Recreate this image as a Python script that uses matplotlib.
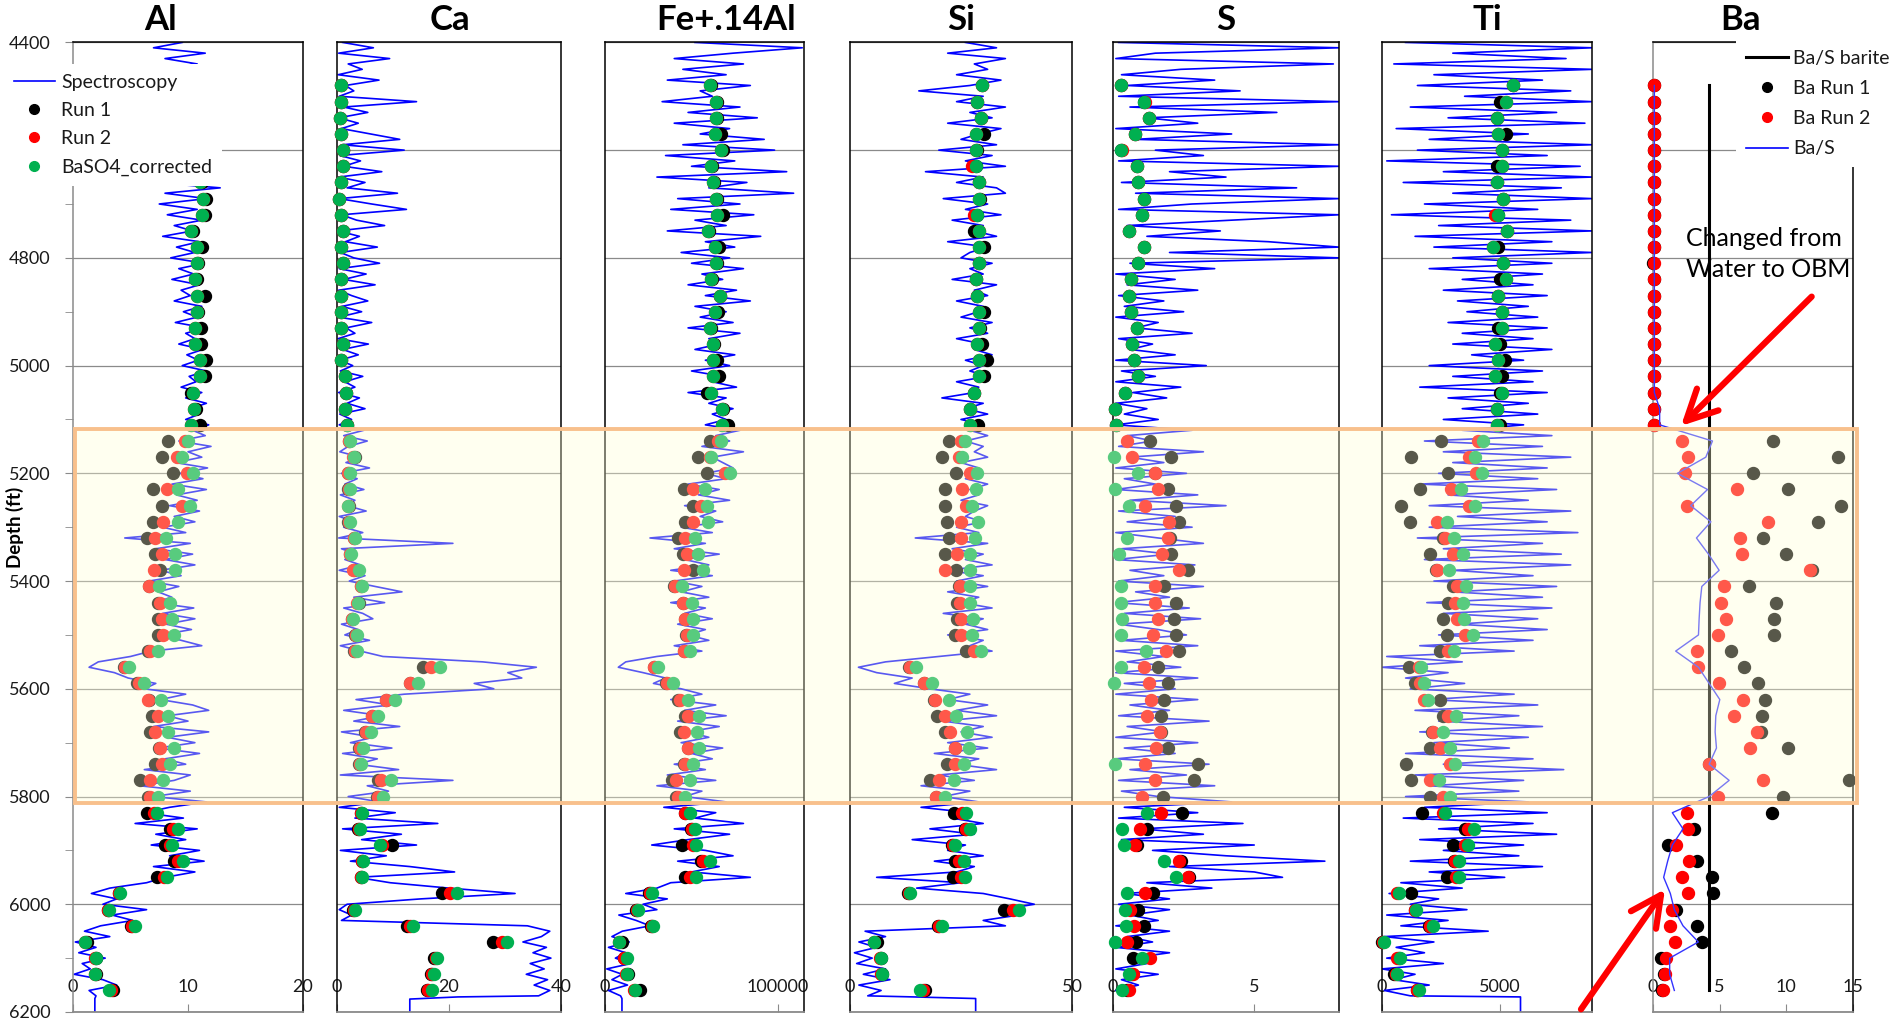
import numpy as np
import matplotlib
matplotlib.use('Agg')
import matplotlib.pyplot as plt
import matplotlib.transforms as mtransforms
from matplotlib.patches import Rectangle
from matplotlib.lines import Line2D

plt.rcParams['font.family'] = ['Lato', 'DejaVu Sans']

# spectroscopy log every 10 ft, lab runs every 30 ft
log_depth = np.arange(4400, 6180, 10)
run_depth = np.arange(4480, 6161, 30)

# ---------------- Al ----------------
al_log = [9.5, 7.0, 11.5, 8.0, 10.8, 6.5, 11.2, 9.0, 10.5, 9.2,
          10.2, 9.0, 11.0, 9.5, 10.8, 9.2, 11.3, 9.8, 10.5, 9.4,
          11.0, 9.0, 10.6, 8.5, 11.5, 10.0, 7.0, 12.8, 8.0, 11.6,
          7.5, 10.8, 8.2, 11.2, 8.8, 10.4, 7.8, 11.0, 9.0, 10.6,
          8.5, 11.4, 9.2, 10.5, 8.6, 11.0, 9.4, 10.2, 8.8, 11.2,
          9.6, 10.8, 8.9, 11.5, 9.8, 10.6, 9.2, 11.3, 9.9, 10.9,
          9.5, 11.6, 10.1, 10.7, 9.4, 11.2, 9.8, 11.6, 10.2, 11.0,
          9.8, 11.8, 10.4, 11.5, 9.2, 12.0, 10.0, 11.2, 8.9, 11.7,
          9.3, 11.3, 8.6, 11.6, 9.0, 10.8, 8.4, 11.0, 8.8, 10.6,
          7.8, 9.8, 4.5, 10.2, 7.2, 10.4, 8.0, 10.6, 7.6, 9.4,
          6.6, 9.2, 7.4, 8.6, 7.0, 10.5, 7.8, 10.6, 8.1, 10.3,
          7.6, 9.4, 11.2, 6.8, 5.0, 2.2, 1.4, 3.6, 4.8, 7.2,
          6.2, 9.8, 7.6, 10.4, 11.8, 8.2, 10.0, 7.0, 11.8, 8.2,
          10.6, 7.4, 11.0, 8.0, 9.8, 6.2, 10.2, 8.8, 5.8, 10.2,
          7.0, 11.6, 8.4, 6.2, 9.6, 5.4, 10.8, 7.2, 9.8, 6.8,
          11.0, 8.4, 11.4, 7.0, 10.6, 8.0, 6.4, 3.2, 1.6, 3.8,
          2.6, 6.4, 3.4, 5.2, 2.4, 1.0, 3.2, 0.2, 2.0, 0.5,
          2.8, 0.8, 1.5, 0.1, 2.6, 3.8, 1.4, 2.0]
al_tail = [1.9, 1.9]
al_tail_depth = [6175, 6260]
al_run1 = [10.8, 11.0, 10.6, 11.2, 10.9, 11.0, 11.2, 11.6, 11.5, 10.4, 11.2,
           10.9, 10.8, 11.5, 10.9, 11.1, 11.1, 11.6, 11.5, 10.3, 10.7, 11.0,
           8.3, 7.7, 8.7, 6.95, 7.7, 6.95, 6.4, 7.15, 7.55, 6.65, 7.4, 7.4,
           7.4, 6.55, 4.4, 5.6, 6.65, 6.85, 6.7, 7.5, 7.15, 5.85, 6.55,
           6.4, 8.4, 8.0, 8.8, 7.3, 4.0, 3.0, 5.0, 1.2, 2.0, 2.0, 3.5]
al_run2 = [10.6, 10.9, 10.5, 11.0, 10.7, 10.8, 11.0, 11.3, 11.2, 10.3, 10.75,
           10.75, 10.6, 10.75, 10.75, 10.6, 10.6, 11.0, 11.0, 10.45, 10.55, 10.3,
           9.75, 9.0, 9.9, 8.15, 9.45, 7.8, 7.15, 7.7, 7.0, 6.65, 7.55, 7.7,
           7.85, 6.7, 4.5, 5.7, 6.55, 7.4, 7.15, 7.55, 7.7, 6.7, 6.7,
           7.0, 8.7, 8.4, 9.1, 7.9, 4.0, 3.0, 5.1, 1.0, 1.9, 1.9, 3.3]
al_corr = [10.6, 10.9, 10.5, 11.0, 10.7, 10.8, 11.0, 11.3, 11.2, 10.3, 10.75,
           10.75, 10.6, 10.75, 10.75, 10.6, 10.6, 11.0, 11.0, 10.45, 10.55, 10.3,
           10.0, 9.45, 10.45, 9.15, 10.2, 9.15, 8.1, 8.85, 8.85, 7.5, 8.4, 8.6,
           8.75, 7.35, 4.85, 6.2, 7.65, 8.3, 8.3, 8.75, 8.45, 7.85, 7.35,
           7.3, 9.1, 8.6, 9.6, 8.2, 4.05, 3.1, 5.4, 1.0, 2.0, 1.95, 3.1]

# ---------------- Ca ----------------
ca_log = [1.0, 6.5, 0.3, 9.4, 2.0, 4.5, 0.2, 7.5, 1.5, 3.0,
          0.4, 14.2, 1.2, 5.5, 0.3, 3.8, 0.8, 6.0, 11.2, 1.0,
          12.0, 0.5, 4.2, 1.2, 8.0, 0.3, 5.0, 1.8, 10.8, 0.4,
          6.2, 12.4, 0.8, 3.5, 8.5, 0.2, 4.0, 1.5, 7.2, 0.6,
          3.0, 7.6, 0.4, 5.2, 1.2, 6.8, 0.3, 2.6, 5.5, 0.9,
          4.4, 0.3, 6.2, 1.6, 3.2, 0.2, 5.6, 1.0, 3.8, 0.5,
          2.8, 0.6, 4.6, 1.4, 3.2, 0.3, 4.0, 1.8, 5.0, 0.5,
          2.6, 0.4, 4.8, 1.2, 5.4, 2.0, 0.5, 4.2, 1.6, 5.8,
          0.8, 3.6, 1.4, 4.8, 0.6, 3.2, 1.8, 5.2, 0.4, 3.0,
          1.2, 4.6, 0.3, 20.7, 0.8, 3.4, 1.4, 4.2, 0.4, 5.0,
          2.2, 6.8, 11.6, 3.0, 8.5, 1.2, 4.6, 6.4, 0.8, 3.8,
          1.4, 5.8, 0.6, 4.2, 8.2, 26.0, 35.6, 30.5, 33.0, 24.5,
          28.0, 12.0, 3.4, 9.5, 1.2, 8.0, 3.0, 11.2, 0.8, 6.5,
          2.4, 9.8, 1.0, 7.2, 3.6, 11.0, 0.6, 20.7, 5.4, 9.2,
          2.0, 7.6, 0.4, 10.4, 3.2, 18.0, 1.0, 11.5, 4.4, 14.2,
          0.6, 8.8, 2.4, 13.0, 21.0, 3.6, 9.5, 20.0, 31.8, 15.0,
          1.8, 0.4, 2.6, 0.8, 34.0, 38.0, 36.5, 33.2, 37.4, 35.0,
          38.2, 34.5, 37.0, 33.8, 37.6, 35.2, 38.0, 36.0]
ca_tail = [21.6, 13.0, 13.0]
ca_tail_depth = [6172, 6176, 6260]
ca_run1 = [0.8, 0.8, 0.6, 0.7, 1.1, 1.0, 0.8, 0.35, 0.7, 1.0, 0.8,
           1.0, 0.8, 0.7, 0.8, 0.7, 1.0, 0.7, 1.4, 1.65, 1.5, 1.8,
           2.1, 3.2, 2.0, 2.0, 2.1, 2.0, 3.0, 2.3, 3.0, 4.2, 4.0, 2.6,
           3.3, 3.1, 15.4, 13.0, 8.7, 6.3, 5.0, 4.0, 4.0, 7.3, 7.2,
           4.2, 3.8, 9.9, 4.4, 4.2, 18.8, 2.9, 12.5, 27.8, 17.4, 16.7, 16.0]
ca_run2 = [0.8, 0.8, 0.6, 0.7, 1.1, 1.0, 0.8, 0.35, 0.7, 1.0, 0.8,
           1.0, 0.8, 0.7, 0.8, 0.7, 1.0, 0.7, 1.4, 1.65, 1.5, 1.8,
           2.2, 2.9, 2.0, 2.1, 1.9, 2.1, 3.1, 2.4, 2.85, 4.3, 3.6, 2.7,
           3.4, 3.2, 16.7, 13.0, 8.8, 6.3, 5.1, 4.05, 4.1, 7.9, 7.35,
           4.3, 3.9, 8.0, 4.4, 4.3, 20.1, 3.0, 13.0, 29.4, 17.6, 16.9, 16.3]
ca_corr = [0.8, 0.8, 0.6, 0.7, 1.1, 1.0, 0.8, 0.35, 0.7, 1.0, 0.8,
           1.0, 0.8, 0.7, 0.8, 0.7, 1.0, 0.7, 1.4, 1.65, 1.5, 1.8,
           2.4, 3.0, 2.25, 2.25, 2.0, 2.25, 3.3, 2.55, 3.9, 4.5, 3.75, 2.85,
           3.6, 3.6, 18.35, 14.4, 10.3, 7.35, 6.15, 4.65, 4.35, 9.6, 8.2,
           4.5, 4.05, 7.75, 4.65, 4.5, 21.35, 3.15, 13.6, 30.3, 17.9, 17.3, 17.0]

# ---------------- Fe+.14Al (thousands) ----------------
fe_log = [52, 114, 74, 40, 80, 45, 70, 36, 84, 55,
          62, 33, 78, 48, 88, 40, 72, 55, 92, 45,
          98, 35, 75, 50, 105, 30, 82, 60, 109, 42,
          78, 38, 86, 52, 70, 36, 90, 58, 75, 44,
          72, 50, 80, 56, 68, 48, 76, 58, 84, 52,
          70, 55, 74, 48, 78, 60, 66, 52, 75, 58,
          72, 50, 68, 62, 76, 48, 70, 60, 74, 62,
          70, 58, 78, 64, 72, 56, 80, 62, 68, 74,
          58, 70, 48, 66, 54, 72, 46, 64, 55, 68,
          44, 62, 26, 58, 40, 66, 46, 60, 38, 62,
          40, 56, 44, 60, 38, 58, 46, 62, 42, 58,
          48, 60, 40, 56, 30, 12, 7.7, 22, 35, 28,
          44, 56, 38, 64, 46, 70, 42, 66, 48, 60,
          44, 68, 50, 62, 40, 58, 36, 64, 30, 56,
          46, 70, 34, 64, 52, 80, 40, 72, 48, 27,
          58, 74, 42, 66, 50, 84, 38, 30, 12, 36,
          22, 30, 8, 18, 26, 10, 4, 14, 2, 12,
          6, 15, 1, 10, 4, 13, 2, 9]
fe_tail = [9.8, 9.8]
fe_tail_depth = [6175, 6260]
fe_run1 = [61.0, 64.6, 64.6, 67.3, 68.3, 61.8, 62.9, 64.8, 68.3, 60.0, 65.8,
           64.6, 61.8, 66.5, 65.4, 61.0, 62.9, 65.0, 65.8, 58.7, 68.0, 71.0,
           60.6, 53.8, 58.7, 45.8, 51.0, 46.2, 41.9, 45.2, 51.0, 40.0, 45.0, 46.3,
           47.0, 45.6, 28.3, 35.4, 42.3, 46.5, 43.3, 47.8, 45.8, 38.8, 41.3,
           46.0, 49.5, 44.6, 55.4, 46.2, 25.5, 18.2, 26.5, 9.6, 11.0, 13.2, 20.2]
fe_run2 = [60.6, 64.4, 64.4, 63.8, 67.0, 61.5, 62.5, 64.4, 65.0, 59.6, 63.8,
           64.4, 61.5, 66.3, 63.5, 60.6, 62.5, 62.5, 62.5, 61.5, 67.7, 67.7,
           65.4, 60.6, 69.2, 51.0, 55.4, 51.0, 46.2, 47.1, 45.8, 40.4, 45.2, 46.5,
           47.1, 45.8, 28.5, 35.6, 43.3, 48.0, 45.8, 48.0, 46.2, 41.3, 41.9,
           46.5, 50.0, 51.0, 56.5, 49.0, 25.9, 18.5, 26.9, 8.0, 11.2, 12.2, 17.0]
fe_corr = [60.6, 64.4, 64.4, 63.8, 67.0, 61.5, 62.5, 64.4, 65.0, 59.6, 63.8,
           64.4, 61.5, 66.3, 63.5, 60.6, 62.5, 62.5, 62.5, 61.5, 67.7, 67.7,
           67.3, 61.2, 72.1, 57.7, 58.7, 59.6, 51.9, 53.8, 56.7, 44.6, 50.0, 51.0,
           51.0, 49.0, 30.4, 39.4, 48.0, 54.2, 52.9, 54.2, 51.0, 49.0, 46.2,
           49.0, 51.9, 52.3, 60.6, 52.3, 27.3, 19.2, 27.9, 8.1, 12.5, 12.5, 17.3]

# ---------------- Si ----------------
si_log = [26, 33, 22, 35, 28, 31, 24, 34, 27, 15.5,
          30, 24, 35, 27, 32, 22, 34, 29, 25, 33,
          20, 32, 26, 35, 17, 30, 24, 33, 35, 21,
          31, 26, 34, 23, 30, 28, 33, 22, 31, 27,
          25, 32, 27, 30, 23, 33, 28, 31, 24, 30,
          29, 25, 32, 27, 31, 24, 30, 28, 32, 26,
          30, 27, 31, 24, 29, 28, 20.7, 30, 26, 31,
          25, 30, 27, 31, 26, 30, 28, 31, 25, 29,
          30, 26, 31, 27, 29, 25, 31, 28, 26, 30,
          24, 29, 14.7, 31, 23, 30, 26, 32, 22, 30,
          24, 31, 22, 29, 25, 32, 21, 30, 26, 31,
          22, 30, 27, 32, 20, 8, 1.9, 6, 14, 10,
          18, 27, 22, 31, 24, 33, 21, 30, 25, 32,
          22, 31, 19, 29, 24, 33, 20, 28, 16, 27,
          21, 29, 16, 27, 23, 30, 18, 28, 14, 26,
          22, 30, 19, 28, 24, 6, 25, 15, 30, 36,
          41.5, 34, 38, 30, 35, 3.4, 8, 2, 6, 1,
          5, 1.5, 8, 3, 9, 2, 7, 4]
si_tail = [14.3, 28.3, 28.3]
si_tail_depth = [6172, 6175, 6260]
si_run1 = [29.8, 28.6, 29.4, 30.2, 28.5, 28.3, 29.0, 29.2, 28.7, 28.0, 30.2,
           29.0, 28.3, 28.7, 30.2, 29.3, 29.8, 30.9, 30.2, 27.9, 27.1, 28.8,
           22.2, 20.7, 23.9, 21.5, 21.3, 21.9, 22.2, 21.5, 23.9, 24.5, 24.1, 24.1,
           23.6, 26.2, 13.4, 16.6, 18.9, 19.6, 21.3, 23.6, 21.9, 18.1, 19.3,
           23.4, 26.0, 23.0, 23.7, 23.3, 13.0, 34.7, 19.8, 6.0, 6.9, 7.2, 16.8]
si_run2 = [29.8, 28.5, 29.4, 28.3, 28.3, 27.5, 29.0, 29.0, 28.0, 29.0, 29.0,
           29.0, 28.3, 28.7, 29.0, 29.1, 28.5, 29.0, 29.0, 27.9, 27.1, 27.1,
           24.9, 24.5, 27.1, 25.3, 26.2, 24.9, 24.9, 24.1, 21.5, 24.7, 24.7, 24.9,
           24.9, 27.9, 13.6, 16.6, 19.2, 21.5, 22.6, 23.6, 23.6, 20.1, 19.4,
           25.2, 26.2, 23.2, 24.5, 25.0, 13.2, 36.7, 20.0, 5.5, 6.8, 7.0, 16.4]
si_corr = [29.8, 28.5, 29.4, 28.3, 28.3, 28.3, 29.0, 29.0, 28.7, 29.0, 29.0,
           29.0, 28.3, 28.7, 29.0, 29.1, 28.5, 29.0, 29.0, 27.9, 27.1, 27.1,
           26.0, 25.3, 28.5, 28.3, 27.4, 28.9, 28.1, 27.1, 27.1, 27.1, 27.1, 27.7,
           27.4, 29.6, 14.9, 18.5, 22.4, 23.8, 26.4, 26.8, 25.6, 23.4, 21.5,
           26.2, 27.1, 23.6, 25.6, 26.0, 13.6, 38.1, 20.7, 5.3, 7.0, 7.2, 15.8]

# ---------------- S ----------------
s_log = [0.2, 8.0, 1.5, 0.1, 7.8, 2.4, 0.3, 3.6, 0.5, 4.5,
         0.2, 8.0, 0.6, 5.8, 1.2, 3.0, 0.1, 4.2, 0.8, 8.0,
         1.5, 3.2, 0.2, 8.0, 2.0, 4.0, 0.3, 6.5, 0.8, 8.0,
         2.8, 0.2, 8.0, 4.2, 0.5, 3.8, 1.2, 5.5, 8.0, 2.0,
         8.0, 0.6, 3.6, 0.1, 2.2, 0.5, 3.0, 0.2, 1.8, 0.4,
         2.5, 0.1, 1.6, 0.8, 2.8, 0.2, 1.4, 0.6, 2.2, 0.1,
         3.3, 0.3, 1.5, 0.1, 2.4, 0.7, 1.9, 0.1, 1.2, 0.4,
         1.6, 0.1, 2.8, 0.5, 1.4, 0.2, 3.2, 0.6, 1.8, 0.1,
         2.6, 0.4, 1.5, 0.1, 3.0, 0.6, 4.0, 0.2, 2.2, 0.5,
         2.8, 0.1, 1.6, 3.2, 0.3, 2.0, 0.1, 2.9, 0.6, 1.8,
         0.2, 3.2, 0.8, 2.0, 0.1, 2.7, 0.4, 3.1, 0.2, 1.6,
         2.6, 0.3, 3.0, 0.1, 1.8, 0.5, 2.4, 0.1, 3.0, 0.4,
         2.2, 0.1, 3.0, 0.6, 2.0, 0.2, 3.4, 0.5, 1.8, 0.1,
         3.0, 0.4, 2.2, 0.1, 3.4, 0.6, 2.6, 0.2, 3.6, 0.3,
         1.6, 4.2, 0.4, 3.0, 0.2, 4.6, 1.0, 3.2, 0.3, 5.0,
         1.4, 4.0, 7.5, 2.0, 5.0, 6.0, 1.2, 3.5, 0.4, 2.0,
         0.2, 2.0, 0.6, 1.6, 0.1, 2.0, 0.5, 1.4, 0.1, 2.0,
         0.6, 1.2, 0.1, 1.6, 0.3, 0.9, 0.1, 0.6]
s_tail = []
s_tail_depth = []
nan = np.nan
s_run1 = [0.28, 1.08, 1.26, 0.79, 0.28, 0.85, 0.9, 1.08, 1.02, 0.55, 1.08,
          0.9, 0.64, 0.55, 0.64, 0.85, 0.67, 0.73, 0.9, 0.44, 0.08, 0.12,
          1.32, 2.05, 1.5, 1.94, 2.24, 2.34, 2.0, 2.05, 2.67, 1.82, 2.22, 2.16,
          2.22, 2.34, 1.59, 1.94, 1.82, 1.69, 1.7, 1.94, 3.0, 2.85, 1.76,
          2.44, 1.2, 0.85, 2.4, 2.7, 1.41, 0.9, 1.08, 0.82, 0.7, 0.65, 0.5]
s_run2 = [0.28, 1.12, 1.26, 0.79, 0.32, 0.85, 0.9, 1.08, 1.02, 0.55, 1.08,
          0.9, 0.64, 0.55, 0.64, 0.85, 0.67, 0.73, 0.9, 0.44, 0.08, 0.12,
          0.5, 0.67, 1.47, 1.58, 1.12, 1.99, 1.96, 1.73, 2.34, 1.47, 1.47, 1.58,
          1.41, 1.88, 1.08, 1.26, 1.35, 1.2, 1.67, 1.53, 1.14, 1.47, 1.02,
          1.69, 0.94, 0.79, 2.34, 2.67, 1.14, 0.6, 0.75, 0.5, 1.3, 0.7, 0.55]
s_corr = [0.28, 1.08, 1.26, 0.79, 0.28, 0.85, 0.9, 1.08, 1.02, 0.55, 1.08,
          0.9, 0.64, 0.55, 0.64, 0.85, 0.67, 0.73, 0.9, 0.44, 0.08, 0.12,
          nan, 0.03, 0.9, 0.08, 0.55, nan, 0.5, 0.2, nan, 0.28, 0.28, 0.32,
          0.28, 1.18, 0.28, 0.03, nan, nan, nan, nan, 0.08, nan, nan,
          1.2, 0.32, 0.38, 1.81, 2.24, 0.5, 0.44, 0.47, 0.08, 1.02, 0.55, 0.32]

# ---------------- Ti ----------------
ti_log = [1000, 8900, 3000, 7800, 500, 8900, 2200, 6800, 1500, 8000,
          3500, 8900, 1200, 7400, 2800, 8600, 600, 6200, 2000, 8900,
          1500, 7000, 200, 8400, 2600, 8900, 900, 7600, 3000, 8900,
          1800, 6600, 400, 8000, 2400, 8900, 1400, 7200, 2200, 8900,
          3000, 7200, 2000, 6800, 3400, 6400, 2600, 7000, 3200, 6200,
          3600, 6600, 2800, 7000, 3400, 6400, 3000, 7200, 3800, 6000,
          2000, 6800, 3000, 6400, 1600, 7000, 2800, 6200, 3400, 6600,
          2600, 6000, 3400, 7200, 1800, 6800, 2600, 8000, 3000, 7000,
          2400, 6600, 1600, 7400, 2800, 6200, 2000, 8000, 3200, 7000,
          2000, 8300, 1500, 6800, 2600, 7600, 1800, 8000, 3000, 6400,
          2200, 7400, 3000, 6800, 1900, 7200, 2600, 6600, 3200, 7000,
          2400, 6400, 1600, 5600, 200, 3400, 0, 2800, 1000, 3500,
          1200, 5600, 2000, 6600, 1400, 5800, 2400, 6800, 1600, 6200,
          2200, 5400, 1000, 6400, 2600, 7700, 1400, 6000, 2000, 5800,
          1000, 6200, 1800, 7000, 900, 6400, 2400, 7400, 1600, 6000,
          2600, 5800, 1200, 6800, 2000, 5200, 800, 3400, 300, 2400,
          1200, 3600, 200, 2800, 800, 4500, 100, 2200, 600, 1800,
          200, 2600, 0, 1400, 500, 2000, 100, 1200]
ti_tail = [5870, 5870]
ti_tail_depth = [6172, 6260]
ti_run1 = [5535, 4980, 4860, 5250, 5070, 4860, 4860, 5140, 4930, 5310, 4930,
           5140, 4980, 4930, 5070, 4930, 5000, 5210, 5070, 5000, 4860, 5000,
           2490, 1225, 2815, 1590, 815, 1170, 2600, 2040, 2300, 3025, 2815, 2605,
           2745, 2465, 1125, 1410, 2465, 2605, 2100, 2040, 1030, 1225, 2040,
           1690, 3500, 3000, 3050, 2745, 1225, 1400, 2000, 0, 700, 500, 1500]
ti_run2 = [5535, 5250, 4860, 4930, 5070, 5070, 4860, 5140, 4790, 5310, 4690,
           5140, 5250, 4930, 5070, 5070, 4790, 4930, 4790, 5070, 4860, 4860,
           4080, 3700, 3985, 2915, 3700, 2325, 2675, 2995, 2325, 3170, 3100, 3170,
           3520, 2815, 1550, 1590, 1760, 2815, 2180, 2465, 2885, 2040, 2605,
           2600, 3660, 3500, 3100, 3150, 650, 1400, 2040, 50, 620, 600, 1500]
ti_corr = [5535, 5250, 4860, 4930, 5070, 5070, 4860, 5140, 4930, 5310, 4690,
           5140, 5250, 4930, 5070, 5070, 4790, 4930, 4790, 5070, 4860, 4860,
           4295, 3940, 4225, 3335, 3940, 2745, 3055, 3420, 2860, 3560, 3450, 3480,
           3870, 3070, 1650, 1790, 1970, 3140, 2605, 2885, 3100, 2395, 2885,
           2675, 3900, 3660, 3280, 3280, 700, 1450, 2180, 100, 775, 635, 1550]

# ---------------- Ba ----------------
ba_run1 = [0.05, 0.05, 0.05, 0.05, 0.05, 0.05, 0.05, 0.05, 0.05, 0.05, 0.05,
           0.0, 0.05, 0.05, 0.05, 0.05, 0.05, 0.05, 0.05, 0.05, 0.05, 0.05,
           8.97, 13.9, 7.47, 10.1, 14.1, 12.4, 8.27, 9.97, 11.9, 7.17, 9.22, 9.1,
           9.1, 5.84, 6.8, 7.89, 8.4, 8.15, 8.1, 10.1, 4.21, 14.7, 9.72,
           8.9, 3.1, 1.1, 3.3, 4.4, 4.5, 1.7, 3.3, 3.7, 0.6, 0.8, 0.7]
ba_run2 = [0.08, 0.05, 0.1, 0.08, 0.05, 0.1, 0.08, 0.05, 0.1, 0.08, 0.08,
           0.05, 0.1, 0.08, 0.05, 0.1, 0.08, 0.08, 0.1, 0.05, 0.08, 0.1,
           2.15, 2.66, 2.41, 6.29, 2.53, 8.65, 6.54, 6.67, 11.8, 5.34, 5.09, 5.46,
           4.84, 3.28, 3.38, 4.96, 6.72, 6.09, 7.79, 7.29, 4.21, 8.27, 4.84,
           2.53, 2.6, 1.75, 2.7, 2.2, 2.6, 1.4, 1.3, 1.65, 1.0, 0.9, 0.75]
ba_s = [0.1, 0.1, 0.1, 0.1, 0.1, 0.1, 0.1, 0.1, 0.1, 0.1, 0.1,
        0.1, 0.1, 0.1, 0.1, 0.1, 0.1, 0.1, 0.1, 0.1, 0.5, 0.5,
        4.46, 3.96, 1.83, 4.09, 2.83, 4.34, 3.26, 4.16, 4.96, 3.66, 3.53, 3.46,
        3.41, 1.70, 3.41, 4.21, 5.01, 4.71, 4.66, 4.76, 4.21, 5.71, 4.21,
        1.45, 2.25, 1.45, 1.1, 0.8, 1.3, 1.6, 2.25, 3.4, 1.25, 1.25, 1.6]
ba_barite = 4.2

# depth interval where the mud system changed
zone_top = 5118
zone_base = 5812

BLUE = '#0000FF'
GREEN = '#00B050'
GRID = '#8a8a8a'
W, H = 1901, 1024

fig = plt.figure(figsize=(W / 100, H / 100), dpi=100)

# panel frames in pixels: left, right, title centre
frames = [(73, 303, 160), (337, 561, 450), (605, 804, 726), (850, 1072, 961),
          (1113, 1339, 1226), (1382, 1592, 1487), (1653, 1853, 1740)]
top_px, bot_px = 42.4, 1012

panels = [
    ('Al', al_log, al_tail, al_tail_depth, al_run1, al_run2, al_corr, 1, 20, [0, 10, 20], ['0', '10', '20']),
    ('Ca', ca_log, ca_tail, ca_tail_depth, ca_run1, ca_run2, ca_corr, 1, 40, [0, 20, 40], ['0', '20', '40']),
    ('Fe+.14Al', fe_log, fe_tail, fe_tail_depth, fe_run1, fe_run2, fe_corr, 1000, 115000, [0, 100000], ['0', '100000']),
    ('Si', si_log, si_tail, si_tail_depth, si_run1, si_run2, si_corr, 1, 50, [0, 50], ['0', '50']),
    ('S', s_log, s_tail, s_tail_depth, s_run1, s_run2, s_corr, 1, 8.0, [0, 5], ['0', '5']),
    ('Ti', ti_log, ti_tail, ti_tail_depth, ti_run1, ti_run2, ti_corr, 1, 8900, [0, 5000], ['0', '5000']),
]


def make_axes(i, title):
    left, right, tcx = frames[i]
    ax = fig.add_axes([left / W, 1 - bot_px / H, (right - left) / W, (bot_px - top_px) / H])
    ax.set_ylim(6200, 4400)
    ax.set_yticks(range(4400, 6201, 200))
    ax.yaxis.grid(True, color=GRID, lw=0.9)
    ax.set_axisbelow(True)
    for side in ['top', 'right', 'left']:
        ax.spines[side].set_color('black')
        ax.spines[side].set_linewidth(1.1)
    ax.spines['bottom'].set_color(GRID)
    ax.spines['bottom'].set_linewidth(1.3)
    ax.tick_params(axis='x', direction='in', length=6, color=GRID, pad=-24,
                   labelsize=13, labelcolor='#1a1a1a')
    if i == 0:
        ax.set_yticks(range(4500, 6200, 200), minor=True)
        ax.tick_params(axis='y', which='both', direction='out', length=6, color=GRID,
                       pad=10, labelsize=13, labelcolor='#1a1a1a')
    else:
        ax.tick_params(axis='y', which='both', left=False, labelleft=False)
    ax.set_title(title, fontsize=25, fontweight='bold', x=(tcx - left) / (right - left), pad=9)
    return ax


axes = []
for i, (name, log, tail, tail_d, r1, r2, corr, scale, xmax, ticks, labels) in enumerate(panels):
    ax = make_axes(i, name)
    ax.plot(np.concatenate([np.asarray(log, float), tail]) * scale,
            np.concatenate([log_depth, tail_d]), color=BLUE, lw=1.2, zorder=2)
    ax.plot(np.asarray(r1) * scale, run_depth, 'o', color='black', ms=8.6, ls='none', clip_on=False, zorder=3)
    ax.plot(np.asarray(r2) * scale, run_depth, 'o', color='red', ms=8.6, ls='none', clip_on=False, zorder=3)
    ax.plot(np.asarray(corr) * scale, run_depth, 'o', color=GREEN, ms=8.6, ls='none', clip_on=False, zorder=3)
    ax.set_xlim(0, xmax)
    ax.set_xticks(ticks)
    ax.set_xticklabels(labels)
    axes.append(ax)

ax_al = axes[0]
ax_al.spines['left'].set_color(GRID)

# Ba panel
ax_ba = make_axes(6, 'Ba')
ax_ba.spines['left'].set_color(GRID)
ax_ba.plot([ba_barite, ba_barite], [run_depth[0], run_depth[-1]], color='black', lw=2.2, zorder=2)
ax_ba.plot(ba_run1, run_depth, 'o', color='black', ms=8.6, ls='none', clip_on=False, zorder=3)
ax_ba.plot(ba_run2, run_depth, 'o', color='red', ms=8.6, ls='none', clip_on=False, zorder=3)
ax_ba.plot(ba_s, run_depth, color='#3333ff', lw=1.0, zorder=4)
ax_ba.set_xlim(0, 15)
ax_ba.set_xticks([0, 5, 10, 15])
ax_ba.set_xticklabels(['0', '5', '10', '15'])

fig.text(15 / W, 1 - 527 / H, 'Depth (ft)', rotation=90, fontsize=13.5, fontweight='bold',
         ha='center', va='center')

# legends
al_handles = [Line2D([], [], color=BLUE, lw=1.2),
              Line2D([], [], ls='none', marker='o', color='black', ms=7),
              Line2D([], [], ls='none', marker='o', color='red', ms=7),
              Line2D([], [], ls='none', marker='o', color=GREEN, ms=7)]
leg = ax_al.legend(al_handles, ['Spectroscopy', 'Run 1', 'Run 2', 'BaSO4_corrected'],
                   loc='upper left', bbox_to_anchor=(4 / W, 1 - 64 / H), bbox_transform=fig.transFigure,
                   fontsize=14, frameon=True, framealpha=1, facecolor='white', edgecolor='none',
                   fancybox=False, borderpad=0.5, borderaxespad=0, handlelength=2.1,
                   handletextpad=0.35, labelspacing=0.58, labelcolor='#1a1a1a')
leg.set_zorder(10)

ba_handles = [Line2D([], [], color='black', lw=2.2),
              Line2D([], [], ls='none', marker='o', color='black', ms=7),
              Line2D([], [], ls='none', marker='o', color='red', ms=7),
              Line2D([], [], color=BLUE, lw=1.2)]
leg2 = ax_ba.legend(ba_handles, ['Ba/S barite', 'Ba Run 1', 'Ba Run 2', 'Ba/S'],
                    loc='upper left', bbox_to_anchor=(1736 / W, 1 - 40 / H), bbox_transform=fig.transFigure,
                    fontsize=14, frameon=True, framealpha=1, facecolor='white', edgecolor='none',
                    fancybox=False, borderpad=0.5, borderaxespad=0, handlelength=2.15,
                    handletextpad=0.3, labelspacing=0.68, labelcolor='#1a1a1a')
leg2.set_zorder(10)

# highlighted interval drawn over every track
band = mtransforms.blended_transform_factory(fig.transFigure, ax_al.transData)
x0, x1 = 75 / W, 1857 / W
fig.add_artist(Rectangle((x0, zone_top), x1 - x0, zone_base - zone_top, transform=band,
                         facecolor=(1.0, 1.0, 0.835), edgecolor='none', alpha=0.35, zorder=5))
fig.add_artist(Rectangle((x0, zone_top), x1 - x0, zone_base - zone_top, transform=band,
                         facecolor='none', edgecolor='#F8C08C', lw=2.8, zorder=6))

# mud change annotation
arrow = dict(arrowstyle='->,head_length=2.2,head_width=1.1', color='red', lw=4.5,
             shrinkA=0, shrinkB=0)
ax_ba.annotate('', xy=(2.1, 5112), xytext=(11.9, 4872), arrowprops=arrow, annotation_clip=False)
ax_ba.annotate('', xy=(0.9, 5972), xytext=(-5.4, 6195), arrowprops=arrow, annotation_clip=False)
ax_ba.text(2.5, 4742, 'Changed from\nWater to OBM', fontsize=18, va='top', ha='left',
           linespacing=1.45, zorder=7)

fig.savefig('out.png', dpi=100)
